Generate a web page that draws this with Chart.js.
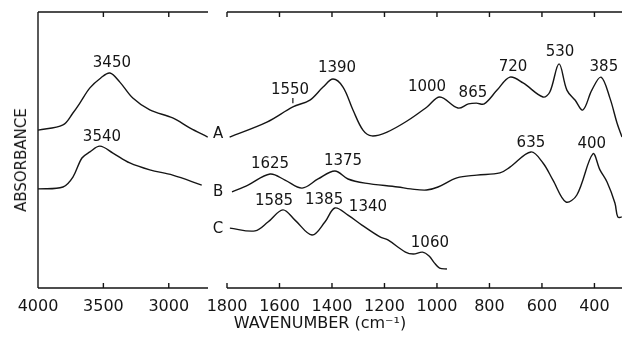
<!DOCTYPE html>
<html>
<head>
<meta charset="utf-8">
<script src="https://cdn.jsdelivr.net/npm/chart.js@4.4.1/dist/chart.umd.min.js"></script>
<style>
  html, body { margin: 0; padding: 0; background: #fff; }
  #wrap { position: relative; width: 622px; height: 337px; overflow: hidden; }
  canvas { position: absolute; top: 0; }
  #left { left: 0; }
  #right { left: 200px; }
  .title { position: absolute; font-family: "DejaVu Sans", sans-serif; font-size: 15px; color: #151515; white-space: nowrap; }
  #ytitle { left: 21px; top: 160px; transform: translate(-50%, -50%) rotate(-90deg); }
  #xtitle { left: 320px; top: 322px; transform: translate(-50%, -50%); font-size: 16px; }
</style>
</head>
<body>
<div id="wrap">
  <canvas id="left" width="216" height="337"></canvas>
  <canvas id="right" width="422" height="337"></canvas>
  <div class="title" id="ytitle">ABSORBANCE</div>
  <div class="title" id="xtitle">WAVENUMBER (cm⁻¹)</div>
</div>
<script>
(function () {
    const INK = '#151515';
    const FONT = '"DejaVu Sans", sans-serif';

    // tick labels
    const LEFT_TICKS = [4000, 3500, 3000];
    const RIGHT_TICKS = [1800, 1600, 1400, 1200, 1000, 800, 600, 400];

    // high-wavenumber panel (4000-2700)
    const A_HI_WN = [4000, 3809, 3733, 3680, 3603, 3520, 3450, 3374, 3275, 3145, 2970, 2840, 2702];
    const A_HI_ABS = [57.2, 59.1, 63.4, 67.0, 72.5, 76.1, 77.9, 74.6, 68.8, 64.5, 61.6, 58.0, 54.7];
    const B_HI_WN = [4000, 3809, 3733, 3664, 3603, 3527, 3427, 3298, 3145, 2970, 2748];
    const B_HI_ABS = [35.9, 36.6, 40.2, 47.1, 49.3, 51.4, 48.9, 45.3, 42.8, 40.9, 37.3];

    // low-wavenumber panel (1800-300)
    const A_LO_WN = [1790, 1648, 1549, 1484, 1434, 1396, 1358, 1320, 1282, 1248, 1190, 1114, 1038, 989, 920, 880, 850, 820, 771, 722, 672, 596, 570, 535, 505, 474, 444, 410, 375, 341, 314, 295];
    const A_LO_ABS = [54.7, 60.1, 65.6, 68.1, 72.8, 75.7, 72.8, 64.5, 57.2, 55.1, 56.5, 60.5, 65.6, 69.2, 65.2, 66.7, 67.0, 66.7, 71.7, 76.4, 74.3, 69.2, 71.0, 81.2, 71.7, 68.1, 64.5, 71.7, 76.4, 68.8, 59.8, 54.7];
    const B_LO_WN = [1781, 1720, 1636, 1579, 1514, 1453, 1389, 1339, 1274, 1149, 1100, 1040, 996, 924, 848, 760, 722, 642, 596, 558, 509, 467, 406, 379, 352, 322, 311, 296];
    const B_LO_ABS = [34.8, 37.3, 41.3, 39.1, 36.2, 39.5, 42.4, 39.5, 38.0, 36.6, 35.9, 35.5, 36.6, 39.9, 40.9, 41.7, 43.8, 49.3, 45.3, 39.1, 31.2, 33.7, 48.6, 42.8, 38.4, 30.8, 25.7, 25.7];
    const C_WN = [1789, 1693, 1644, 1587, 1541, 1476, 1427, 1389, 1339, 1286, 1217, 1187, 1120, 1090, 1055, 1030, 1010, 990, 962];
    const C_ABS = [21.7, 20.7, 23.9, 28.3, 24.6, 19.2, 23.9, 29.0, 26.4, 22.8, 18.5, 17.4, 13.0, 12.3, 13.0, 11.6, 9.1, 7.2, 6.9];

    // band annotations
    const HI_PEAKS = ['3450', '3540'];
    const HI_PEAK_WN = [3435, 3511];
    const HI_PEAK_ABS = [81.5, 54.7];
    const LO_PEAKS = ['1550', '1390', '1000', '865', '720', '530', '385', '1625', '1375', '635', '400', '1585', '1385', '1340', '1060'];
    const LO_PEAK_WN = [1560, 1381, 1038, 863, 710, 531, 364, 1636, 1358, 642, 410, 1621, 1430, 1263, 1027];
    const LO_PEAK_ABS = [71.7, 79.7, 72.8, 70.7, 80.1, 85.5, 80.1, 44.9, 46.0, 52.5, 52.2, 31.5, 31.9, 29.3, 16.3];
    const CURVES = ['A', 'B', 'C'];
    const CURVE_WN = [1834, 1834, 1834];
    const CURVE_ABS = [55.8, 34.8, 21.4];
    const MARK_WN = [1549];

    function series(wn, abs) {
        return {
            data: wn.map((w, i) => ({ x: w, y: abs[i] })),
            borderColor: INK,
            borderWidth: 1.4,
            pointRadius: 0,
            tension: 0.35,
            fill: false
        };
    }

    const framePlugin = {
        id: 'frame',
        afterDraw(chart, args, opts) {
            const { ctx, chartArea: { left, right, top, bottom }, scales: { x } } = chart;
            ctx.save();
            ctx.strokeStyle = INK;
            ctx.lineWidth = 1.4;
            ctx.beginPath();
            ctx.moveTo(left, top); ctx.lineTo(right, top);
            ctx.moveTo(left, bottom); ctx.lineTo(right, bottom);
            if (opts.leftEdge) { ctx.moveTo(left, top); ctx.lineTo(left, bottom); }
            x.ticks.forEach(t => {
                const px = x.getPixelForValue(t.value);
                ctx.moveTo(px, bottom); ctx.lineTo(px, bottom - 5);
                ctx.moveTo(px, top); ctx.lineTo(px, top + 5);
            });
            ctx.stroke();
            ctx.restore();
        }
    };

    const labelPlugin = {
        id: 'peakLabels',
        afterDraw(chart, args, opts) {
            const { ctx, scales: { x, y } } = chart;
            ctx.save();
            ctx.fillStyle = INK;
            ctx.font = '15px ' + FONT;
            ctx.textAlign = 'center';
            ctx.textBaseline = 'middle';
            opts.texts.forEach((t, i) => {
                ctx.fillText(t, x.getPixelForValue(opts.wn[i]), y.getPixelForValue(opts.abs[i]));
            });
            (opts.marks || []).forEach(w => {
                const px = x.getPixelForValue(w);
                ctx.strokeStyle = INK;
                ctx.lineWidth = 1.2;
                ctx.beginPath();
                ctx.moveTo(px, y.getPixelForValue(68.8));
                ctx.lineTo(px, y.getPixelForValue(66.9));
                ctx.stroke();
            });
            ctx.restore();
        }
    };

    function xScale(min, max, ticks) {
        return {
            type: 'linear',
            min: min,
            max: max,
            reverse: true,
            grid: { display: false, drawTicks: false },
            border: { display: false },
            afterBuildTicks: s => { s.ticks = ticks.map(v => ({ value: v })); },
            afterFit: s => { s.height = 49; s.paddingLeft = 0; s.paddingRight = 0; },
            ticks: {
                color: INK,
                font: { family: FONT, size: 16 },
                padding: 9,
                maxRotation: 0,
                autoSkip: false,
                callback: v => String(v)
            }
        };
    }

    function baseOptions(padLeft, padRight) {
        return {
            responsive: false,
            animation: false,
            layout: { padding: { left: padLeft, right: padRight, top: 12, bottom: 0 } },
            plugins: { legend: { display: false }, tooltip: { enabled: false } },
            scales: {
                y: { display: false, min: 0, max: 100 }
            }
        };
    }

    const leftOpts = baseOptions(38, 8);
    leftOpts.scales.x = xScale(2700, 4000, LEFT_TICKS);
    leftOpts.plugins.frame = { leftEdge: true };
    leftOpts.plugins.peakLabels = { texts: HI_PEAKS, wn: HI_PEAK_WN, abs: HI_PEAK_ABS };

    new Chart(document.getElementById('left'), {
        type: 'line',
        data: { datasets: [series(A_HI_WN, A_HI_ABS), series(B_HI_WN, B_HI_ABS)] },
        options: leftOpts,
        plugins: [framePlugin, labelPlugin]
    });

    const rightOpts = baseOptions(27, 0);
    rightOpts.scales.x = xScale(295, 1800, RIGHT_TICKS);
    rightOpts.plugins.frame = { leftEdge: false };
    rightOpts.plugins.peakLabels = {
        texts: LO_PEAKS.concat(CURVES),
        wn: LO_PEAK_WN.concat(CURVE_WN),
        abs: LO_PEAK_ABS.concat(CURVE_ABS),
        marks: MARK_WN
    };

    new Chart(document.getElementById('right'), {
        type: 'line',
        data: { datasets: [series(A_LO_WN, A_LO_ABS), series(B_LO_WN, B_LO_ABS), series(C_WN, C_ABS)] },
        options: rightOpts,
        plugins: [framePlugin, labelPlugin]
    });
})();
</script>
</body>
</html>
